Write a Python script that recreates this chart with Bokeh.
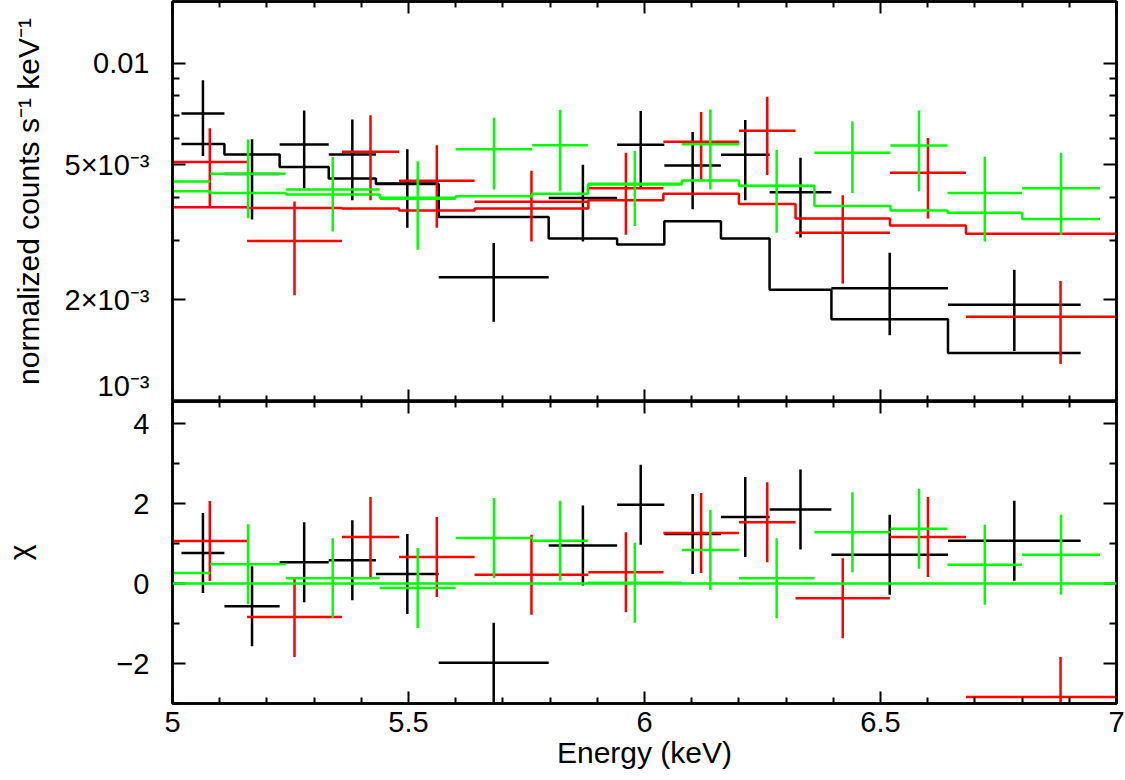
import numpy as np
from bokeh.plotting import figure
from bokeh.layouts import column
from bokeh.models import LinearAxis, LogAxis, FixedTicker, Range1d, Span, ColumnDataSource
from bokeh.embed import file_html
from bokeh.resources import INLINE

# ---------------- data (rates in units of 1e-3 counts/s/keV) ----------------
SCALE = 1e-3

black_edges = [5.019, 5.110, 5.227, 5.331, 5.431, 5.564, 5.797, 5.942, 6.042, 6.162, 6.265, 6.396, 6.643, 6.924]
black_rate = [7.10, 4.70, 5.75, 5.37, 4.41, 2.33, 3.99, 5.74, 4.98, 5.36, 4.15, 2.16, 1.93]
black_err = [1.79, 1.25, 1.49, 1.44, 1.15, 0.61, 1.02, 1.48, 1.28, 1.43, 1.10, 0.59, 0.52]
black_model = [5.77, 5.37, 4.93, 4.56, 4.39, 3.51, 3.03, 2.91, 3.41, 3.03, 2.14, 1.75, 1.39]
black_chi = [0.76, -0.57, 0.53, 0.58, 0.24, -1.98, 0.95, 1.97, 1.24, 1.66, 1.85, 0.72, 1.07]

red_edges = [5.000, 5.158, 5.359, 5.480, 5.640, 5.881, 6.040, 6.200, 6.320, 6.520, 6.681, 7.082]
red_rate = [5.10, 2.98, 5.47, 4.49, 3.89, 4.27, 5.85, 6.31, 3.15, 4.74, 1.78]
red_err = [1.32, 0.92, 1.54, 1.23, 0.92, 1.16, 1.32, 1.64, 0.92, 1.27, 0.49]
red_model = [3.75, 3.73, 3.72, 3.67, 3.72, 3.93, 4.11, 3.83, 3.47, 3.31, 3.13]
red_chi = [1.06, -0.84, 1.16, 0.66, 0.22, 0.28, 1.26, 1.53, -0.37, 1.16, -2.84]

green_edges = [4.918, 5.080, 5.240, 5.439, 5.600, 5.762, 5.880, 6.079, 6.200, 6.360, 6.521, 6.642, 6.800, 6.965]
green_rate = [4.47, 4.71, 4.23, 3.97, 5.56, 5.72, 4.40, 5.76, 4.34, 5.43, 5.71, 4.13, 4.27]
green_err = [1.17, 1.23, 1.05, 1.16, 1.33, 1.54, 1.10, 1.53, 1.19, 1.30, 1.53, 1.16, 1.16]
green_model = [4.18, 4.13, 4.09, 4.00, 4.04, 4.11, 4.38, 4.50, 4.33, 3.78, 3.67, 3.61, 3.46]
green_chi = [0.26, 0.48, 0.13, -0.11, 1.14, 1.07, 0.02, 0.84, 0.13, 1.28, 1.37, 0.47, 0.72]

datasets = [
    ("#000000", black_edges, black_rate, black_err, black_model, black_chi),
    ("#ff0000", red_edges, red_rate, red_err, red_model, red_chi),
    ("#00ff00", green_edges, green_rate, green_err, green_model, green_chi),
]

x_major = [5, 5.5, 6, 6.5, 7]
x_minor = [5.1, 5.2, 5.3, 5.4, 5.6, 5.7, 5.8, 5.9, 6.1, 6.2, 6.3, 6.4, 6.6, 6.7, 6.8, 6.9]
x_labels = {5: "5", 5.5: "5.5", 6: "6", 6.5: "6.5", 7: "7"}
top_major = [0.001, 0.002, 0.005, 0.01]
top_minor = [0.003, 0.004, 0.006, 0.007, 0.008, 0.009]
top_labels = {0.001: "10\u207b\u00b3", 0.002: "2\u00d710\u207b\u00b3", 0.005: "5\u00d710\u207b\u00b3", 0.01: "0.01"}
bot_major = [-2, 0, 2, 4]
bot_minor = [-3, -1, 1, 3]
bot_labels = {-2: "\u22122", 0: "0", 2: "2", 4: "4"}

FONT = "Liberation Sans"
TICK_FS = "29px"
LAB_FS = "30px"
LW = 2.5


def style_axis(ax, major, minor, labels=None, major_len=12, minor_len=6):
    ax.ticker = FixedTicker(ticks=major, minor_ticks=minor)
    ax.major_tick_in = major_len
    ax.major_tick_out = 0
    ax.minor_tick_in = minor_len
    ax.minor_tick_out = 0
    ax.axis_line_width = 2.5
    ax.major_tick_line_width = 2
    ax.minor_tick_line_width = 2
    ax.axis_line_color = "black"
    ax.major_tick_line_color = "black"
    ax.minor_tick_line_color = "black"
    if labels is None:
        ax.major_label_text_color = None
        ax.major_label_standoff = 0
        ax.axis_label = None
    else:
        ax.major_label_overrides = labels
        ax.major_label_text_font = FONT
        ax.major_label_text_font_size = TICK_FS
        ax.major_label_text_color = "black"
    ax.axis_label_text_font = FONT
    ax.axis_label_text_font_size = LAB_FS
    ax.axis_label_text_font_style = "normal"
    ax.axis_label_text_color = "black"


x_range = Range1d(5, 7)

# ---------------- top panel ----------------
top = figure(width=1125, height=401, x_range=x_range, y_range=Range1d(1e-3, 0.0152),
             y_axis_type="log", output_backend="svg", toolbar_location=None,
             min_border_left=172, min_border_right=9, min_border_top=1, min_border_bottom=0)
top.grid.visible = False
top.outline_line_color = "black"
top.outline_line_width = 2.5

style_axis(top.xaxis[0], x_major, x_minor, None, 12, 6)
style_axis(top.yaxis[0], top_major, top_minor, top_labels, 13, 7)
top.yaxis[0].axis_label = "normalized counts s\u207b\u00b9 keV\u207b\u00b9"
top.yaxis[0].major_label_standoff = 23
top.yaxis[0].axis_label_standoff = 17

ax_above = LinearAxis()
style_axis(ax_above, x_major, x_minor, None, 12, 6)
top.add_layout(ax_above, "above")
ax_right = LogAxis()
style_axis(ax_right, top_major, top_minor, None, 13, 7)
top.add_layout(ax_right, "right")

for color, edges, rate, err, model, chi in datasets:
    e = np.array(edges)
    r = np.array(rate) * SCALE
    s = np.array(err) * SCALE
    m = np.array(model) * SCALE
    xc = 0.5 * (e[:-1] + e[1:])
    src = ColumnDataSource(dict(x=xc, lo=e[:-1], hi=e[1:], y=r, ylo=r - s, yhi=r + s))
    top.step(x=list(e), y=list(m) + [m[-1]], mode="after", line_color=color, line_width=LW)
    top.segment(x0="lo", x1="hi", y0="y", y1="y", source=src, line_color=color, line_width=LW)
    top.segment(x0="x", x1="x", y0="ylo", y1="yhi", source=src, line_color=color, line_width=LW)

# ---------------- bottom panel ----------------
bot = figure(width=1125, height=379, x_range=x_range, y_range=Range1d(-3, 4.55),
             output_backend="svg", toolbar_location=None,
             min_border_left=172, min_border_right=9, min_border_top=0, min_border_bottom=77)
bot.grid.visible = False
bot.outline_line_color = "black"
bot.outline_line_width = 2.5

style_axis(bot.xaxis[0], x_major, x_minor, x_labels, 12, 6)
bot.xaxis[0].axis_label = "Energy (keV)"
bot.xaxis[0].major_label_standoff = 8
bot.xaxis[0].axis_label_standoff = 1
style_axis(bot.yaxis[0], bot_major, bot_minor, bot_labels, 13, 7)
bot.yaxis[0].axis_label = "\u03c7"
bot.yaxis[0].major_label_standoff = 23
bot.yaxis[0].axis_label_standoff = 77

ax_above2 = LinearAxis()
style_axis(ax_above2, x_major, x_minor, None, 12, 6)
bot.add_layout(ax_above2, "above")
ax_right2 = LinearAxis()
style_axis(ax_right2, bot_major, bot_minor, None, 13, 7)
bot.add_layout(ax_right2, "right")

for color, edges, rate, err, model, chi in datasets:
    e = np.array(edges)
    c = np.array(chi)
    xc = 0.5 * (e[:-1] + e[1:])
    src = ColumnDataSource(dict(x=xc, lo=e[:-1], hi=e[1:], y=c, ylo=c - 1, yhi=c + 1))
    bot.segment(x0="lo", x1="hi", y0="y", y1="y", source=src, line_color=color, line_width=LW)
    bot.segment(x0="x", x1="x", y0="ylo", y1="yhi", source=src, line_color=color, line_width=LW)

bot.add_layout(Span(location=0, dimension="width", line_color="#00ff00", line_width=LW))

layout = column(top, bot, spacing=0)
open("out.html", "w").write(file_html(layout, INLINE))
